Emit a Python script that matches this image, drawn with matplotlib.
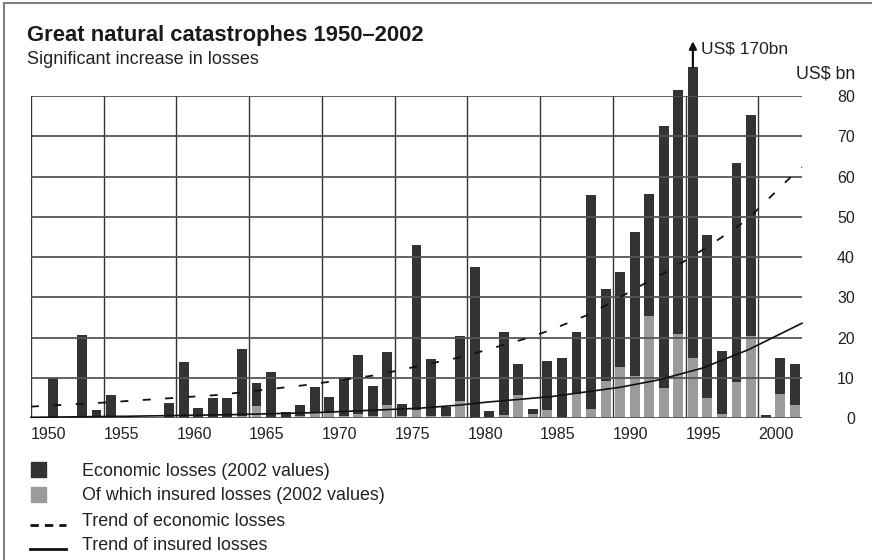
import matplotlib
matplotlib.use('Agg')
import matplotlib.pyplot as plt
from matplotlib.patches import Rectangle
from matplotlib.lines import Line2D

plt.rcParams['font.family'] = ['Liberation Sans', 'DejaVu Sans']

# losses per year, US$ bn (2002 values)
years = list(range(1951, 2003))
economic = [9.9, 0, 20.7, 2.0, 5.7, 0.4, 0, 0, 3.8, 14.0,
            2.5, 5.0, 5.0, 17.2, 8.7, 11.6, 1.6, 3.2, 7.8, 5.2,
            10.2, 15.6, 8.1, 16.4, 3.5, 42.9, 14.6, 2.9, 20.4, 37.5,
            1.9, 21.4, 13.4, 2.2, 14.2, 15.0, 21.4, 55.4, 32.2, 36.4,
            46.2, 55.6, 72.6, 81.6, 170.0, 45.4, 16.7, 63.3, 75.3, 0.8,
            15.0, 13.6]
insured = [0, 0, 0, 0, 0, 0, 0, 0, 0, 0,
           0, 0, 0.3, 0.5, 3.0, 0, 0, 0.5, 1.2, 1.4,
           0.5, 1.0, 0.5, 3.3, 0.5, 2.1, 0.5, 0.5, 4.4, 0,
           0.3, 0.8, 5.8, 1.0, 2.0, 0.4, 6.0, 2.2, 9.3, 12.8,
           10.5, 25.5, 7.6, 20.9, 15.0, 5.0, 1.0, 9.0, 20.4, 0.3,
           6.0, 3.3]

# trend curves
econ_trend_x = [1949.5, 1950, 1954.5, 1962.4, 1968.5, 1973.2, 1979.2, 1983.8,
                1985.2, 1988.0, 1991.7, 1993.7, 1996.2, 1998.7, 2002.1, 2002.5]
econ_trend_y = [2.9, 3.0, 3.9, 5.8, 8.3, 10.7, 15.3, 20.1,
                21.9, 26.0, 33.5, 37.4, 43.0, 49.2, 61.2, 62.3]
ins_trend_x = [1949.5, 1956, 1963.2, 1969.0, 1976.2, 1979.0, 1980.8, 1985.3,
               1990.0, 1992.6, 1995.6, 1998.8, 2002.5]
ins_trend_y = [0.25, 0.5, 0.9, 1.4, 2.5, 3.3, 4.0, 5.4,
               7.7, 9.5, 12.4, 17.0, 23.6]

grid_years = [1949.5 + 5 * i for i in range(11)]
tick_labels = [str(1950 + 5 * i) for i in range(11)]
yticks = list(range(0, 81, 10))

W, H = 872, 560
fig = plt.figure(figsize=(W / 100, H / 100), dpi=100)


def fx(px):
    return px / W


def fy(py):
    return 1 - py / H


ax = fig.add_axes([fx(31), fy(418.3), fx(802) - fx(31), fy(96) - fy(418.3)])
ax.set_xlim(1949.5, 2002.5)
ax.set_ylim(0, 80)
for s in ax.spines.values():
    s.set_visible(False)

for v in yticks:
    ax.axhline(v, color='#555555', lw=1.3, zorder=3)
for g in grid_years:
    ax.axvline(g, color='#333333', lw=1.0, zorder=1)

# the 1995 bar is cut off above the grid
cap = Rectangle((1949.5, 0), 53, 87.2, transform=ax.transData)
econ_bars = ax.bar(years, economic, width=0.68, color='#333333', zorder=2)
for b in econ_bars:
    b.set_clip_path(cap)
ax.bar(years, insured, width=0.68, color='#9b9b9b', zorder=2.1)

ax.plot(econ_trend_x, econ_trend_y, color='#111111', lw=1.3,
        linestyle=(0, (4.4, 8)), zorder=4, clip_on=False)
ax.plot(ins_trend_x, ins_trend_y, color='#111111', lw=1.2, zorder=4, clip_on=False)

ax.annotate('', xy=(1995, 93.6), xytext=(1995, 87.0),
            arrowprops=dict(arrowstyle='-|>', color='#111111', lw=1.6,
                            mutation_scale=11, shrinkA=0, shrinkB=0),
            annotation_clip=False)
ax.text(1995.55, 90.6, 'US$ 170bn', fontsize=12.5, color='#222222',
        ha='left', va='baseline', clip_on=False)

ax.set_xticks(grid_years)
ax.set_xticklabels(tick_labels, ha='left')
ax.tick_params(axis='x', length=0, pad=6, labelsize=11.5, labelcolor='#222222')
ax.yaxis.tick_right()
ax.set_yticks(yticks)
ax.tick_params(axis='y', length=0, pad=38, labelsize=11.5, labelcolor='#222222')
for lab in ax.get_yticklabels():
    lab.set_ha('right')
ax.text(fx(855), fy(78), 'US$ bn', transform=fig.transFigure, fontsize=12.8,
        color='#222222', ha='right', va='baseline')

fig.text(fx(27), fy(41.5), 'Great natural catastrophes 1950\u20132002',
         fontsize=15.8, fontweight='bold', color='#1a1a1a', va='baseline')
fig.text(fx(27), fy(64), 'Significant increase in losses',
         fontsize=13, color='#222222', va='baseline')

# legend
fig.add_artist(Rectangle((fx(31), fy(476.5)), 15 / W, 15 / H,
                         transform=fig.transFigure, color='#333333'))
fig.add_artist(Rectangle((fx(31), fy(501.5)), 15 / W, 15 / H,
                         transform=fig.transFigure, color='#9b9b9b'))
fig.add_artist(Line2D([fx(30), fx(66)], [fy(525), fy(525)], transform=fig.transFigure,
                      color='#111111', lw=2, linestyle=(0, (3, 2.2))))
fig.add_artist(Line2D([fx(30), fx(66)], [fy(548.5), fy(548.5)], transform=fig.transFigure,
                      color='#111111', lw=2))
legend_texts = ['Economic losses (2002 values)', 'Of which insured losses (2002 values)',
                'Trend of economic losses', 'Trend of insured losses']
for txt, base in zip(legend_texts, [476.5, 500.5, 526, 550]):
    fig.text(fx(82), fy(base), txt, fontsize=12.9, color='#222222', va='baseline')

# frame on top and left
fig.add_artist(Line2D([fx(4), 1], [fy(2.7), fy(2.7)], transform=fig.transFigure,
                      color='#808080', lw=1.5))
fig.add_artist(Line2D([fx(4), fx(4)], [fy(2.7), 0], transform=fig.transFigure,
                      color='#808080', lw=1.5))

fig.savefig('out.png', dpi=100)
